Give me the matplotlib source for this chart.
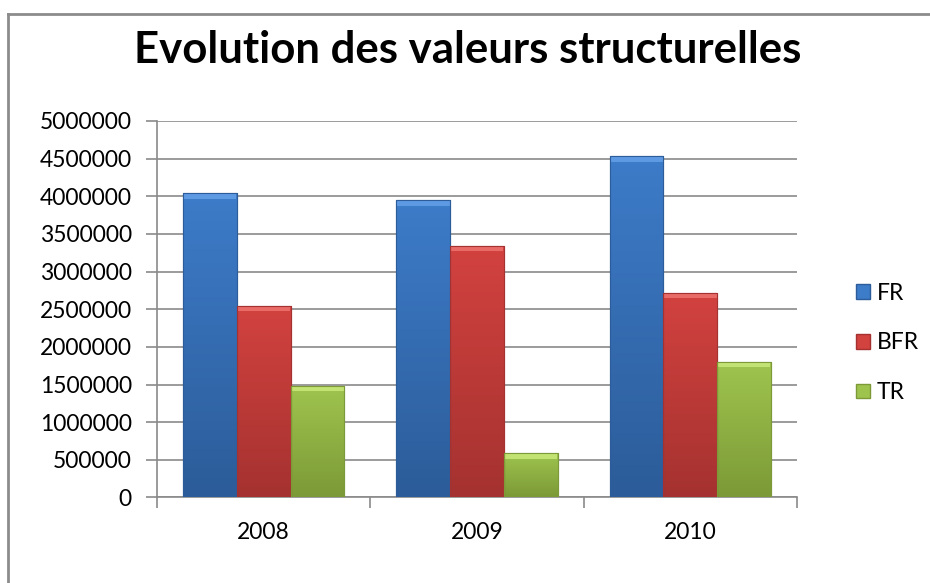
import numpy as np
import matplotlib
matplotlib.use("Agg")
import matplotlib.pyplot as plt
from matplotlib.lines import Line2D
from matplotlib.colors import to_rgb

years = ["2008", "2009", "2010"]
series = ["FR", "BFR", "TR"]
fr = [4040000, 3945000, 4530000]
bfr = [2540000, 3345000, 2720000]
tr = [1480000, 585000, 1800000]
colors = ["#3d7cc9", "#d2423f", "#9fc44e"]
dark = ["#2c5c99", "#a53230", "#7c9a37"]
light = ["#6aa5ec", "#f07a76", "#d0ee82"]

plt.rcParams["font.family"] = ["Lato", "DejaVu Sans"]

fig = plt.figure(figsize=(9.3, 5.83), dpi=100)
ax = fig.add_axes([0.1688, 0.1467, 0.8570 - 0.1688, 0.7925 - 0.1467])

x = np.arange(len(years))
w = 0.252
for i, (name, vals) in enumerate(zip(series, [fr, bfr, tr])):
    bars = ax.bar(x + (i - 1) * w, vals, w, color=colors[i], edgecolor=dark[i],
                  linewidth=0.8, label=name, zorder=3)
    # shading: vertical gradient clipped to each bar, plus light top bevel
    for b in bars:
        x0, h = b.get_x(), b.get_height()
        c1 = np.array(to_rgb(colors[i]))
        c2 = np.array(to_rgb(dark[i]))
        t = np.linspace(0, 1, 64)[:, None]
        img = (c1 * (1 - t) + c2 * t)[:, None, :] * np.ones((1, 8, 1))
        im = ax.imshow(img, extent=[x0, x0 + w, 0, h], aspect="auto",
                       origin="upper", zorder=3.5)
        im.set_clip_path(b)
        ax.bar(x0 + w / 2, 70000, w * 0.98, bottom=h - 70000,
               color=light[i], alpha=0.75, linewidth=0, zorder=3.6)
        ax.bar(x0 + w / 2, h, w, color="none", edgecolor=dark[i],
               linewidth=0.8, zorder=3.7)

ax.set_xlim(-0.5, 2.5)
ax.set_ylim(0, 5000000)
ax.set_yticks(np.arange(0, 5000001, 500000))
ax.set_yticklabels([str(v) for v in range(0, 5000001, 500000)])
ax.set_xticks(x)
ax.set_xticklabels(years)
ax.set_xticks([-0.5, 0.5, 1.5, 2.5], minor=True)

ax.grid(axis="y", color="#8a8a8a", linewidth=1.2, zorder=0)
ax.set_axisbelow(True)
for s in ["top", "right"]:
    ax.spines[s].set_visible(False)
for s in ["left", "bottom"]:
    ax.spines[s].set_color("#8a8a8a")
    ax.spines[s].set_linewidth(1.2)

ax.tick_params(axis="y", length=8, width=1.2, color="#8a8a8a", pad=10,
               labelsize=16.5)
ax.tick_params(axis="x", which="major", length=0, pad=18, labelsize=16.5)
ax.tick_params(axis="x", which="minor", length=8, width=1.2, color="#8a8a8a")

handles = [plt.Rectangle((0, 0), 1, 1, facecolor=colors[i], edgecolor=dark[i])
           for i in range(3)]
fig.legend(handles, series, loc="center left", bbox_to_anchor=(0.911, 0.412),
           frameon=False, fontsize=16.5, handlelength=0.6, handleheight=0.6,
           handletextpad=0.3, labelspacing=1.25, borderaxespad=0)

fig.text(0.503, 1 - 63 / 583, "Evolution des valeurs structurelles",
         ha="center", va="baseline", fontsize=31.5, fontweight="bold")

# chart frame (top and left edges visible)
fig.add_artist(Line2D([8 / 930, 1], [1 - 14 / 583, 1 - 14 / 583],
                      transform=fig.transFigure, color="#8c8c8c", linewidth=2))
fig.add_artist(Line2D([8 / 930, 8 / 930], [0, 1 - 14 / 583],
                      transform=fig.transFigure, color="#8c8c8c", linewidth=2))

fig.savefig("out.png", dpi=100)
